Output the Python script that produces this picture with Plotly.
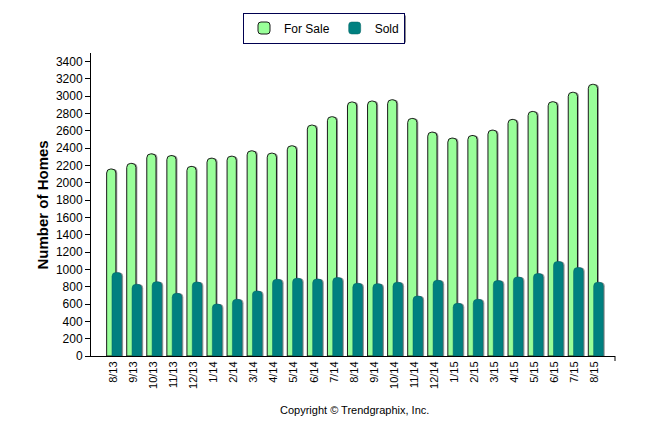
import plotly.graph_objects as go

months = ["8/13", "9/13", "10/13", "11/13", "12/13", "1/14", "2/14", "3/14", "4/14", "5/14",
          "6/14", "7/14", "8/14", "9/14", "10/14", "11/14", "12/14", "1/15", "2/15", "3/15",
          "4/15", "5/15", "6/15", "7/15", "8/15"]
for_sale = [2160, 2225, 2335, 2315, 2190, 2285, 2308, 2370, 2343, 2428,
            2667, 2764, 2934, 2945, 2960, 2744, 2586, 2517, 2547, 2609,
            2733, 2825, 2937, 3046, 3138]
sold = [965, 828, 858, 724, 855, 600, 655, 751, 886, 898,
        890, 906, 840, 836, 852, 693, 875, 608, 655, 871,
        913, 952, 1092, 1022, 852]
y_ticks = list(range(0, 3401, 200))

FONT = "Liberation Sans"
# page body adds an 8px offset; compensate in margins
OFF = 8
L, T = 91 - OFF, 53 - OFF
PW, PH = 524, 303

fig = go.Figure()

# shadows
fig.add_trace(go.Bar(x=months, y=for_sale, offset=-0.26, width=0.46, showlegend=False,
                     hoverinfo="skip", marker=dict(color="rgba(120,120,120,0.75)", line=dict(width=0), cornerradius=4)))
fig.add_trace(go.Bar(x=months, y=for_sale, name="For Sale", offset=-0.33, width=0.46,
                     marker=dict(color="#99FF99", line=dict(color="#1a1a1a", width=1), cornerradius=4)))
fig.add_trace(go.Bar(x=months, y=sold, offset=0.005, width=0.485, showlegend=False,
                     hoverinfo="skip", marker=dict(color="rgba(120,120,120,0.75)", line=dict(width=0), cornerradius=4)))
fig.add_trace(go.Bar(x=months, y=sold, name="Sold", offset=-0.065, width=0.485,
                     marker=dict(color="#008080", line=dict(color="#006060", width=0.5), cornerradius=4)))

def px_x(px):
    return (px - 91) / PW

def px_y(py):
    return (355.5 - py) / PH

fig.update_layout(
    width=646, height=434,
    margin=dict(l=L, r=646 - L - PW, t=T, b=434 - T - PH, autoexpand=False),
    barmode="overlay",
    plot_bgcolor="white", paper_bgcolor="white",
    font=dict(family=FONT, size=12, color="black"),
    legend=dict(orientation="h", x=px_x(324), xanchor="center", y=px_y(12), yanchor="top",
                bordercolor="#000050", borderwidth=1, bgcolor="white",
                font=dict(size=12, family=FONT), itemwidth=30, traceorder="normal"),
    xaxis=dict(type="category", range=[-1.11, 25.0], tickangle=-90, showline=True,
               linecolor="black", linewidth=1, ticks="", showgrid=False,
               tickfont=dict(size=11, family=FONT), zeroline=False),
    yaxis=dict(range=[0, 3500], tickvals=y_ticks, showline=True, linecolor="black",
               linewidth=1, ticks="outside", ticklen=5, tickcolor="black", showgrid=False,
               zeroline=False, tickfont=dict(size=12, family=FONT)),
    shapes=[
        dict(type="line", xref="paper", yref="paper", x0=1, x1=1, y0=0, y1=-5 / PH,
             line=dict(color="black", width=1)),
        dict(type="rect", xref="paper", yref="paper",
             x0=px_x(248), x1=px_x(406), y0=px_y(42), y1=px_y(15),
             fillcolor="#8a8a8a", line=dict(width=0), layer="below"),
    ],
    annotations=[
        dict(text="<b>Number of Homes</b>", textangle=-90, xref="paper", yref="paper",
             x=px_x(42), y=px_y(205), xanchor="center", yanchor="middle", showarrow=False,
             font=dict(size=15, family=FONT)),
        dict(text="Copyright © Trendgraphix, Inc.", xref="paper", yref="paper",
             x=px_x(354), y=px_y(409), xanchor="center", yanchor="middle", showarrow=False,
             font=dict(size=11, family=FONT)),
    ],
)

fig.write_html("out.html")
